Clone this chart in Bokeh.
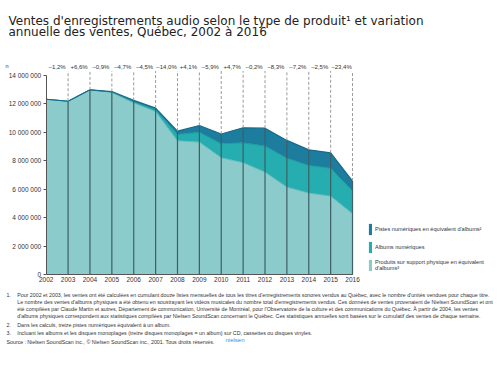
from bokeh.plotting import figure
from bokeh.models import Range1d, FixedTicker, Label, Legend, LegendItem, ColumnDataSource
from bokeh.embed import file_html
from bokeh.resources import INLINE
from bokeh.core.properties import value

# ---- data -------------------------------------------------------------
years = [2002, 2003, 2004, 2005, 2006, 2007, 2008, 2009, 2010, 2011, 2012, 2013, 2014, 2015, 2016]
physical = [12320000, 12180000, 12980000, 12800000, 12050000, 11450000, 9400000, 9310000,
            8210000, 7860000, 7200000, 6150000, 5730000, 5520000, 4280000]
digital_albums = [0, 0, 0, 30000, 90000, 130000, 450000, 690000,
                  980000, 1400000, 1830000, 2030000, 1940000, 1960000, 1590000]
digital_tracks = [0, 0, 0, 30000, 100000, 120000, 230000, 480000,
                  690000, 1060000, 1260000, 1250000, 1100000, 1080000, 710000]
variation = ["–1,2%", "+6,6%", "–0,9%", "–4,7%", "–4,5%", "–14,0%", "+4,1%", "–5,9%",
             "+4,7%", "–0,2%", "–8,3%", "–7,2%", "–2,5%", "–23,4%"]
ytick_values = [0, 2000000, 4000000, 6000000, 8000000, 10000000, 12000000, 14000000]
ytick_labels = ["0", "2 000 000", "4 000 000", "6 000 000",
                "8 000 000", "10 000 000", "12 000 000", "14 000 000"]
series_labels = ["Pistes numériques en équivalent d'albums²",
                 "Albums numériques",
                 "Produits sur support physique en équivalent\nd'albums³"]

title_lines = ["Ventes d'enregistrements audio selon le type de produit¹ et variation",
               "annuelle des ventes, Québec, 2002 à 2016"]
notes = [
    ("1.", ["Pour 2002 et 2003, les ventes ont été calculées en cumulant douze listes mensuelles de tous les titres d'enregistrements sonores vendus au Québec, avec le nombre d'unités vendues pour chaque titre.",
            "Le nombre des ventes d'albums physiques a été obtenu en soustrayant les vidéos musicales du nombre total d'enregistrements vendus. Ces données de ventes provenaient de Nielsen SoundScan et ont",
            "été compilées par Claude Martin et autres, Département de communication, Université de Montréal, pour l'Observatoire de la culture et des communications du Québec. À partir de 2004, les ventes",
            "d'albums physiques correspondent aux statistiques compilées par Nielsen SoundScan concernant le Québec. Ces statistiques annuelles sont basées sur le cumulatif des ventes de chaque semaine."]),
    ("2.", ["Dans les calculs, treize pistes numériques équivalent à un album."]),
    ("3.", ["Incluant les albums et les disques monoplages (treize disques monoplages = un album) sur CD, cassettes ou disques vinyles."]),
]
source_text = "Nielsen SoundScan inc., © Nielsen SoundScan inc., 2001. Tous droits réservés."

# ---- derived ----------------------------------------------------------
s1 = physical
s2 = [a + b for a, b in zip(s1, digital_albums)]
s3 = [a + b for a, b in zip(s2, digital_tracks)]
src = ColumnDataSource(dict(x=years, s1=s1, s2=s2, s3=s3, zero=[0] * len(years)))

C_PHYS = "#8ccbcb"
C_ALB = "#25adaf"
C_TRK = "#1d7d9e"
TXT = "#333333"

W, H = 500, 370
# frame covers the whole canvas; axes are fixed at data locations
p = figure(width=W, height=H, output_backend="svg", toolbar_location=None,
           x_range=Range1d(1999.911, 2022.763), y_range=Range1d(-6716000, 19249000),
           min_border_left=0, min_border_right=0, min_border_top=0, min_border_bottom=0)
p.outline_line_color = None
p.xgrid.visible = False
p.ygrid.visible = False

r_phys = p.varea(x="x", y1="zero", y2="s1", source=src, fill_color=C_PHYS)
r_alb = p.varea(x="x", y1="s1", y2="s2", source=src, fill_color=C_ALB)
r_trk = p.varea(x="x", y1="s2", y2="s3", source=src, fill_color=C_TRK)
p.line(x="x", y="s1", source=src, line_color="#6bbcbd", line_width=1)
p.line(x="x", y="s2", source=src, line_color="#1c9b9d", line_width=1)
p.line(x="x", y="s3", source=src, line_color="#176a8a", line_width=1.2)

# vertical year lines
vx = years[1:]
vtop = s3[1:]
p.segment(x0=vx, y0=[0] * len(vx), x1=vx, y1=vtop, line_color="#3e5f63", line_width=1.2)
p.segment(x0=vx, y0=vtop, x1=vx, y1=[14300000] * len(vx), line_color="#9a9a9a",
          line_width=1, line_dash="3 2")

# variation labels between years
mid = [(a + b) / 2 for a, b in zip(years[:-1], years[1:])]
p.text(x=mid, y=[14560000] * len(mid), text=variation, text_font=value("Liberation Sans"),
       text_font_size="6px", text_color=TXT, text_align="center", text_baseline="middle")

# axes (fixed at y=0 and x=2002)
p.xaxis.fixed_location = 0
p.xaxis.bounds = (2002, 2016)
p.xaxis.ticker = FixedTicker(ticks=years)
p.xaxis.major_label_text_font = "Liberation Sans"
p.xaxis.major_label_text_font_size = "6.5px"
p.xaxis.major_label_text_color = TXT
p.xaxis.major_label_standoff = 2
p.xaxis.major_tick_out = 0
p.xaxis.major_tick_in = 0
p.xaxis.minor_tick_out = 0
p.xaxis.minor_tick_in = 0
p.xaxis.axis_line_color = "#555555"

p.yaxis.fixed_location = 2002
p.yaxis.bounds = (0, 14000000)
p.yaxis.ticker = FixedTicker(ticks=ytick_values)
p.yaxis.major_label_overrides = {v: l for v, l in zip(ytick_values, ytick_labels)}
p.yaxis.major_label_text_font = "Liberation Sans"
p.yaxis.major_label_text_font_size = "6.5px"
p.yaxis.major_label_text_color = TXT
p.yaxis.major_label_standoff = 2
p.yaxis.major_tick_out = 3
p.yaxis.major_tick_in = 0
p.yaxis.minor_tick_out = 0
p.yaxis.minor_tick_in = 0
p.yaxis.axis_line_color = "#555555"
p.yaxis.major_tick_line_color = "#555555"

# legend
legend = Legend(items=[LegendItem(label=series_labels[0], renderers=[r_trk]),
                       LegendItem(label=series_labels[1], renderers=[r_alb]),
                       LegendItem(label=series_labels[2], renderers=[r_phys])],
                location=(368, 98), glyph_width=4, glyph_height=14, label_height=14,
                label_standoff=3, spacing=4, padding=0, margin=0,
                label_text_font="Liberation Sans", label_text_font_size="5.6px",
                label_text_color=TXT, border_line_color=None, background_fill_alpha=0)
p.add_layout(legend)


def lab(x, y, text, size, color=TXT, font="Liberation Sans", baseline="middle"):
    p.add_layout(Label(x=x, y=y, x_units="screen", y_units="screen", text=text,
                       text_font=font, text_font_size=size, text_color=color,
                       text_baseline=baseline))


# title
for i, line in enumerate(title_lines):
    lab(8, 350 - 11 * i, line, "12px", "#222222", "DejaVu Sans", "alphabetic")

# unit label
lab(5, 305, "n", "5.5px")

# footnotes
yy = 75.3
for num, lines in notes:
    lab(6, yy, num, "5.3px")
    for ln in lines:
        lab(16.7, yy, ln, "5.3px")
        yy -= 7
    yy -= 1.3
lab(6, 29, "Source :", "5.3px")
lab(26.7, 29, source_text, "5.3px")
lab(225, 31, "nielsen", "6px", "#3b8fd6")

open("out.html", "w").write(file_html(p, INLINE))
